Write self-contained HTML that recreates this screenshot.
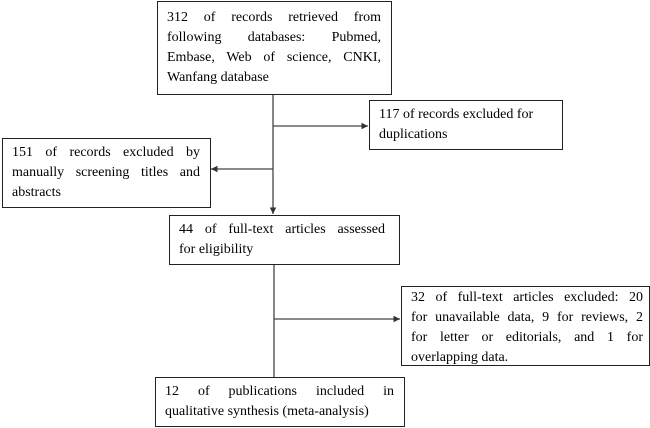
<!DOCTYPE html>
<html><head><style>
body{margin:0;width:650px;height:428px;background:#fff;position:relative;overflow:hidden;font-family:"Liberation Serif",serif;font-size:14px;line-height:20px;color:#000}
.b{position:absolute;border:1.5px solid #222;box-sizing:border-box;padding:6px 10px 0 9px}
.j{text-align:justify;text-align-last:justify;white-space:nowrap}
.l{white-space:nowrap}
svg{position:absolute;left:0;top:0}
</style></head><body>
<svg width="650" height="428">
<defs><marker id="a" markerWidth="6" markerHeight="6" refX="5" refY="3" orient="auto"><path d="M0,0.5 L5,3 L0,5.5z" fill="#333"/></marker></defs>
<g stroke="#444" stroke-width="1.3" fill="none">
<line x1="273" y1="94" x2="273" y2="214" marker-end="url(#a)"/>
<line x1="273" y1="126" x2="368" y2="126" marker-end="url(#a)"/>
<line x1="273" y1="169" x2="211" y2="169" marker-end="url(#a)"/>
<line x1="274" y1="264" x2="274" y2="377"/>
<line x1="274" y1="319" x2="400" y2="319" marker-end="url(#a)"/>
</g></svg>
<div class="b" style="left:157px;top:1px;width:235px;height:94px"><div class="j">312 of records retrieved from</div><div class="j">following databases: Pubmed,</div><div class="j">Embase, Web of science, CNKI,</div><div class="l">Wanfang database</div></div>
<div class="b" style="left:369px;top:100px;width:194px;height:50px;padding-top:4px"><div class="l">117 of records excluded for</div><div class="l">duplications</div></div>
<div class="b" style="left:2px;top:138px;width:209px;height:70px;padding-top:4px"><div class="j">151 of records excluded by</div><div class="j">manually screening titles and</div><div class="l">abstracts</div></div>
<div class="b" style="left:169px;top:215px;width:231px;height:50px;padding-top:4px;padding-right:14px"><div class="j">44 of full-text articles assessed</div><div class="l">for eligibility</div></div>
<div class="b" style="left:401px;top:286px;width:249px;height:80px;padding-top:1px;padding-right:6px"><div class="j">32 of full-text articles excluded: 20</div><div class="j">for unavailable data, 9 for reviews, 2</div><div class="j">for letter or editorials, and 1 for</div><div class="l">overlapping data.</div></div>
<div class="b" style="left:155px;top:377px;width:250px;height:50px;padding-top:4px"><div class="j">12 of publications included in</div><div class="l">qualitative synthesis (meta-analysis)</div></div>
</body></html>
